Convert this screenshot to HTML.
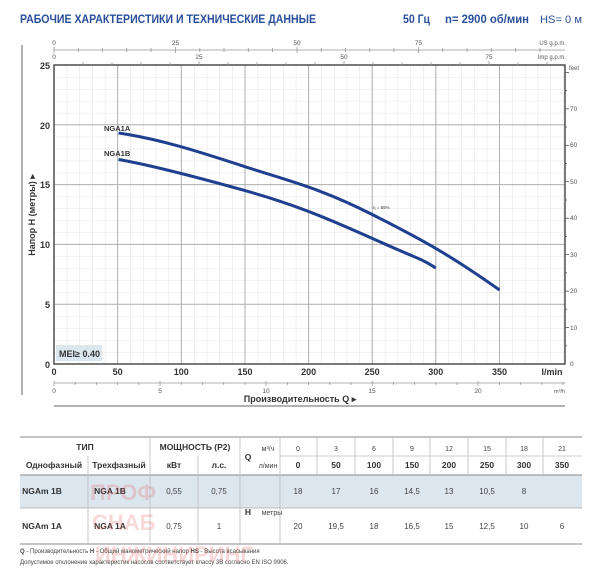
<!DOCTYPE html>
<html><head><meta charset="utf-8"><style>
body{margin:0;width:600px;height:570px;background:#fff;overflow:hidden;font-family:"Liberation Sans",sans-serif}
svg{position:absolute;left:0;top:0}
</style></head><body>
<svg width="600" height="570" viewBox="0 0 600 570" font-family="Liberation Sans, sans-serif">
<defs>
<pattern id="gv" x="54" y="0" width="12.727" height="600" patternUnits="userSpaceOnUse"><line x1="0" y1="0" x2="0" y2="600" stroke="#dcdcdc" stroke-width="0.8"/></pattern>
<pattern id="gh" x="0" y="65" width="600" height="11.96" patternUnits="userSpaceOnUse"><line x1="0" y1="0" x2="600" y2="0" stroke="#dcdcdc" stroke-width="0.8"/></pattern>
</defs>
<text x="20" y="23" font-size="11.5" font-weight="bold" fill="#2a4f9a" textLength="296" lengthAdjust="spacingAndGlyphs">РАБОЧИЕ ХАРАКТЕРИСТИКИ И ТЕХНИЧЕСКИЕ ДАННЫЕ</text>
<text x="403" y="23" font-size="11.5" font-weight="bold" fill="#2a4f9a" textLength="27" lengthAdjust="spacingAndGlyphs">50 Гц</text>
<text x="445" y="23" font-size="11.5" font-weight="bold" fill="#2a4f9a" textLength="84" lengthAdjust="spacingAndGlyphs">n= 2900 об/мин</text>
<text x="540" y="23" font-size="11" fill="#2a4f9a" textLength="42" lengthAdjust="spacingAndGlyphs">HS= 0 м</text>
<line x1="22" y1="45" x2="22" y2="395" stroke="#666" stroke-width="1"/>
<rect x="54" y="65" width="511" height="299" fill="url(#gv)"/>
<rect x="54" y="65" width="511" height="299" fill="url(#gh)"/>
<g stroke="#b0b0b0" stroke-width="1">
<line x1="117.6" y1="65" x2="117.6" y2="364"/><line x1="181.3" y1="65" x2="181.3" y2="364"/><line x1="245" y1="65" x2="245" y2="364"/><line x1="308.6" y1="65" x2="308.6" y2="364"/><line x1="372.2" y1="65" x2="372.2" y2="364"/><line x1="435.8" y1="65" x2="435.8" y2="364"/><line x1="499.5" y1="65" x2="499.5" y2="364"/>
<line x1="54" y1="124.8" x2="565" y2="124.8"/><line x1="54" y1="184.6" x2="565" y2="184.6"/><line x1="54" y1="244.4" x2="565" y2="244.4"/><line x1="54" y1="304.2" x2="565" y2="304.2"/>
</g>
<rect x="54" y="65" width="511" height="299" fill="none" stroke="#333" stroke-width="1.3"/>
<g stroke="#999" stroke-width="0.8">
<line x1="54" y1="50" x2="565" y2="50"/>
<line x1="54" y1="47" x2="54" y2="53"/><line x1="78.3" y1="48" x2="78.3" y2="52"/><line x1="102.5" y1="48" x2="102.5" y2="52"/><line x1="126.8" y1="48" x2="126.8" y2="52"/><line x1="151" y1="48" x2="151" y2="52"/><line x1="175.5" y1="47" x2="175.5" y2="53"/><line x1="199.8" y1="48" x2="199.8" y2="52"/><line x1="224" y1="48" x2="224" y2="52"/><line x1="248.3" y1="48" x2="248.3" y2="52"/><line x1="272.5" y1="48" x2="272.5" y2="52"/><line x1="297" y1="47" x2="297" y2="53"/><line x1="321.3" y1="48" x2="321.3" y2="52"/><line x1="345.5" y1="48" x2="345.5" y2="52"/><line x1="369.8" y1="48" x2="369.8" y2="52"/><line x1="394" y1="48" x2="394" y2="52"/><line x1="418.5" y1="47" x2="418.5" y2="53"/><line x1="442.8" y1="48" x2="442.8" y2="52"/><line x1="467" y1="48" x2="467" y2="52"/><line x1="491.3" y1="48" x2="491.3" y2="52"/><line x1="515.5" y1="48" x2="515.5" y2="52"/><line x1="540" y1="48" x2="540" y2="52"/>
<line x1="83" y1="62" x2="83" y2="65"/><line x1="112" y1="62" x2="112" y2="65"/><line x1="141" y1="62" x2="141" y2="65"/><line x1="170" y1="62" x2="170" y2="65"/><line x1="199" y1="61" x2="199" y2="65"/><line x1="228" y1="62" x2="228" y2="65"/><line x1="257" y1="62" x2="257" y2="65"/><line x1="286" y1="62" x2="286" y2="65"/><line x1="315" y1="62" x2="315" y2="65"/><line x1="344" y1="61" x2="344" y2="65"/><line x1="373" y1="62" x2="373" y2="65"/><line x1="402" y1="62" x2="402" y2="65"/><line x1="431" y1="62" x2="431" y2="65"/><line x1="460" y1="62" x2="460" y2="65"/><line x1="489" y1="61" x2="489" y2="65"/><line x1="518" y1="62" x2="518" y2="65"/><line x1="547" y1="62" x2="547" y2="65"/>
</g>
<g font-size="6.5" fill="#555" text-anchor="middle">
<text x="54" y="45">0</text><text x="175.5" y="45">25</text><text x="297" y="45">50</text><text x="418.5" y="45">75</text>
<text x="54" y="59">0</text><text x="199" y="59">25</text><text x="344" y="59">50</text><text x="489" y="59">75</text>
</g>
<text x="566" y="45" font-size="6" fill="#555" text-anchor="end">US g.p.m.</text>
<text x="566" y="59" font-size="6" fill="#555" text-anchor="end">Imp g.p.m.</text>
<text x="569" y="70" font-size="6" fill="#555">feet</text>
<g stroke="#555" stroke-width="0.8">
<line x1="565" y1="327.5" x2="569" y2="327.5"/><line x1="565" y1="291.1" x2="569" y2="291.1"/><line x1="565" y1="254.6" x2="569" y2="254.6"/><line x1="565" y1="218.2" x2="569" y2="218.2"/><line x1="565" y1="181.7" x2="569" y2="181.7"/><line x1="565" y1="145.3" x2="569" y2="145.3"/><line x1="565" y1="108.8" x2="569" y2="108.8"/><line x1="565" y1="72.4" x2="569" y2="72.4"/>
<line x1="565" y1="345.8" x2="567" y2="345.8"/><line x1="565" y1="309.3" x2="567" y2="309.3"/><line x1="565" y1="272.8" x2="567" y2="272.8"/><line x1="565" y1="236.4" x2="567" y2="236.4"/><line x1="565" y1="200" x2="567" y2="200"/><line x1="565" y1="163.5" x2="567" y2="163.5"/><line x1="565" y1="127" x2="567" y2="127"/><line x1="565" y1="90.6" x2="567" y2="90.6"/>
</g>
<g font-size="6.5" fill="#555">
<text x="570" y="366">0</text><text x="570" y="330">10</text><text x="570" y="293">20</text><text x="570" y="257">30</text><text x="570" y="220">40</text><text x="570" y="184">50</text><text x="570" y="147">60</text><text x="570" y="111">70</text>
</g>
<g font-size="9" font-weight="bold" fill="#333" text-anchor="end">
<text x="50" y="368">0</text><text x="50" y="308">5</text><text x="50" y="248">10</text><text x="50" y="188">15</text><text x="50" y="129">20</text><text x="50" y="69">25</text>
</g>
<text transform="translate(35,215) rotate(-90)" font-size="9" font-weight="bold" fill="#333" text-anchor="middle">Напор H (метры) ▸</text>
<g font-size="9" font-weight="bold" fill="#333" text-anchor="middle">
<text x="54" y="375">0</text><text x="117.6" y="375">50</text><text x="181.3" y="375">100</text><text x="245" y="375">150</text><text x="308.6" y="375">200</text><text x="372.2" y="375">250</text><text x="435.8" y="375">300</text><text x="499.5" y="375">350</text><text x="552" y="375">l/min</text>
</g>
<line x1="54" y1="383" x2="565" y2="383" stroke="#999" stroke-width="0.8"/>
<g stroke="#999" stroke-width="0.8">
<line x1="54" y1="381" x2="54" y2="386"/><line x1="75.2" y1="382" x2="75.2" y2="385"/><line x1="96.4" y1="382" x2="96.4" y2="385"/><line x1="117.6" y1="382" x2="117.6" y2="385"/><line x1="138.8" y1="382" x2="138.8" y2="385"/><line x1="160" y1="381" x2="160" y2="386"/><line x1="181.3" y1="382" x2="181.3" y2="385"/><line x1="202.5" y1="382" x2="202.5" y2="385"/><line x1="223.7" y1="382" x2="223.7" y2="385"/><line x1="245" y1="382" x2="245" y2="385"/><line x1="266" y1="381" x2="266" y2="386"/><line x1="287.4" y1="382" x2="287.4" y2="385"/><line x1="308.6" y1="382" x2="308.6" y2="385"/><line x1="329.8" y1="382" x2="329.8" y2="385"/><line x1="351" y1="382" x2="351" y2="385"/><line x1="372.2" y1="381" x2="372.2" y2="386"/><line x1="393.4" y1="382" x2="393.4" y2="385"/><line x1="414.6" y1="382" x2="414.6" y2="385"/><line x1="435.8" y1="382" x2="435.8" y2="385"/><line x1="457" y1="382" x2="457" y2="385"/><line x1="478" y1="381" x2="478" y2="386"/><line x1="499.5" y1="382" x2="499.5" y2="385"/><line x1="520.7" y1="382" x2="520.7" y2="385"/><line x1="541.9" y1="382" x2="541.9" y2="385"/><line x1="563" y1="382" x2="563" y2="385"/>
</g>
<g font-size="6.5" fill="#555" text-anchor="middle">
<text x="54" y="393">0</text><text x="160" y="393">5</text><text x="266" y="393">10</text><text x="372" y="393">15</text><text x="478" y="393">20</text>
</g>
<text x="565" y="393" font-size="5.5" fill="#555" text-anchor="end">m³/h</text>
<text x="300" y="402" font-size="9" font-weight="bold" fill="#333" text-anchor="middle">Производительность Q ▸</text>
<line x1="54" y1="406" x2="565" y2="406" stroke="#999" stroke-width="1.5"/>
<rect x="56" y="345" width="46" height="16" fill="#dce6ee"/>
<text x="59" y="357" font-size="9" font-weight="bold" fill="#333">MEI≥ 0.40</text>
<path d="M118.6,133 C160,139 200,152 245,166.7 S320,188 372.2,214.5 S450,255 499.5,290" fill="none" stroke="#1f3f8f" stroke-width="3"/>
<path d="M118.6,159.5 C150,165 200,178 245,190.6 S320,215 372.2,238.4 S420,258 435.8,268" fill="none" stroke="#1f3f8f" stroke-width="3"/>
<text x="104" y="131" font-size="7.5" font-weight="bold" fill="#333">NGA1A</text>
<text x="104" y="156" font-size="7.5" font-weight="bold" fill="#333">NGA1B</text>
<text x="373" y="209" font-size="4.5" fill="#333">η = 65%</text>
<rect x="20" y="475" width="562" height="33" fill="#dce6ee"/>
<line x1="20" y1="437" x2="582" y2="437" stroke="#888" stroke-width="1"/>
<line x1="20" y1="475" x2="582" y2="475" stroke="#888" stroke-width="1"/>
<line x1="20" y1="508" x2="582" y2="508" stroke="#aaa" stroke-width="0.8"/>
<line x1="20" y1="544" x2="582" y2="544" stroke="#888" stroke-width="1"/>
<g stroke="#bbb" stroke-width="0.8">
<line x1="88" y1="456" x2="88" y2="544"/><line x1="150" y1="437" x2="150" y2="544"/><line x1="198" y1="456" x2="198" y2="544"/><line x1="240" y1="437" x2="240" y2="544"/><line x1="280" y1="437" x2="280" y2="544"/>
<line x1="317" y1="437" x2="317" y2="475"/><line x1="355" y1="437" x2="355" y2="475"/><line x1="393" y1="437" x2="393" y2="475"/><line x1="430" y1="437" x2="430" y2="475"/><line x1="468" y1="437" x2="468" y2="475"/><line x1="506" y1="437" x2="506" y2="475"/><line x1="543" y1="437" x2="543" y2="475"/>
<line x1="280" y1="456" x2="582" y2="456"/>
</g>
<g font-size="8.5" font-weight="bold" fill="#333" text-anchor="middle">
<text x="85" y="450">ТИП</text><text x="195" y="450">МОЩНОСТЬ (P2)</text>
<text x="54" y="468">Однофазный</text><text x="119" y="468">Трехфазный</text><text x="174" y="468">кВт</text><text x="219" y="468">л.с.</text>
<text x="248" y="460">Q</text>
<text x="298" y="468">0</text><text x="336" y="468">50</text><text x="374" y="468">100</text><text x="412" y="468">150</text><text x="449" y="468">200</text><text x="487" y="468">250</text><text x="524" y="468">300</text><text x="562" y="468">350</text>
<text x="42" y="494">NGAm 1B</text><text x="110" y="494">NGA 1B</text>
<text x="42" y="529">NGAm 1A</text><text x="110" y="529">NGA 1A</text>
<text x="248" y="515">H</text>
</g>
<g font-size="7" fill="#444" text-anchor="middle">
<text x="268" y="451">м³/ч</text><text x="268" y="468">л/мин</text><text x="272" y="515">метры</text>
<text x="298" y="451">0</text><text x="336" y="451">3</text><text x="374" y="451">6</text><text x="412" y="451">9</text><text x="449" y="451">12</text><text x="487" y="451">15</text><text x="524" y="451">18</text><text x="562" y="451">21</text>
</g>
<g font-size="8" fill="#444" text-anchor="middle">
<text x="174" y="494">0,55</text><text x="219" y="494">0,75</text>
<text x="174" y="529">0,75</text><text x="219" y="529">1</text>
<text x="298" y="494">18</text><text x="336" y="494">17</text><text x="374" y="494">16</text><text x="412" y="494">14,5</text><text x="449" y="494">13</text><text x="487" y="494">10,5</text><text x="524" y="494">8</text>
<text x="298" y="529">20</text><text x="336" y="529">19,5</text><text x="374" y="529">18</text><text x="412" y="529">16,5</text><text x="449" y="529">15</text><text x="487" y="529">12,5</text><text x="524" y="529">10</text><text x="562" y="529">6</text>
</g>
<text x="20" y="553" font-size="6" fill="#444"><tspan font-weight="bold">Q</tspan> - Производительность  <tspan font-weight="bold">H</tspan> - Общий манометрический напор  <tspan font-weight="bold">HS</tspan> - Высота всасывания</text>
<text x="20" y="564" font-size="6" fill="#444">Допустимое отклонение характеристик насосов соответствует классу 3B согласно EN ISO 9906.</text>
<g font-size="22" fill="#e35050" opacity="0.22" font-weight="bold">
<text x="90" y="500">ПРОФ</text><text x="92" y="530">СНАБ</text><text x="95" y="562">ИНЖИНИРИНГ</text>
</g>
</svg>
</body></html>
